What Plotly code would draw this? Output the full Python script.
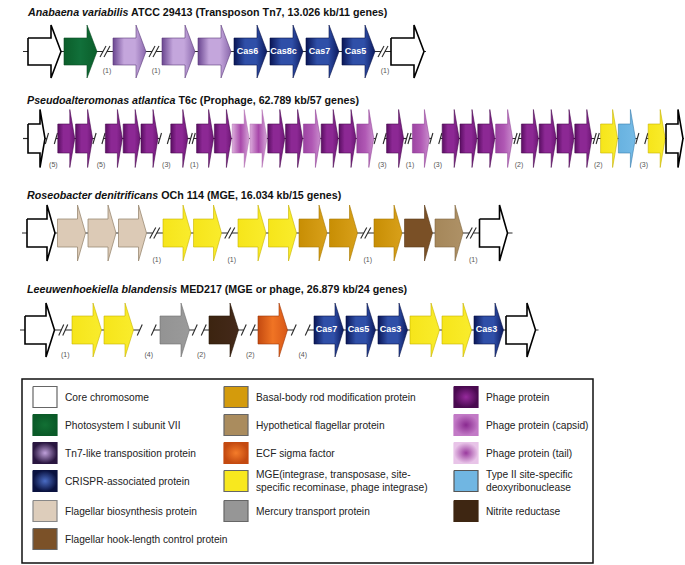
import plotly.graph_objects as go

W, H = 685, 565

# ------------------------------------------------------------------ data
ROW_TITLES = [
    "<b><i>Anabaena variabilis</i> ATCC 29413 (Transposon Tn7, 13.026 kb/11 genes)</b>",
    "<b><i>Pseudoalteromonas atlantica</i> T6c (Prophage, 62.789 kb/57 genes)</b>",
    "<b><i>Roseobacter denitrificans</i> OCh 114 (MGE, 16.034 kb/15 genes)</b>",
    "<b><i>Leeuwenhoekiella blandensis</i> MED217 (MGE or phage, 26.879 kb/24 genes)</b>",
]

# gene codes and break tokens ("//" = tight break, "/ /" and "/  /" = open breaks)
ROW1_TRACK = ["core", "psi", "//", "tn7", "//", "tn7", "tn7", "cas", "cas", "cas", "cas", "//", "core"]
ROW1_GENE_TEXT = ["", "", "", "", "", "Cas6", "Cas8c", "Cas7", "Cas5", ""]
ROW1_GAP_TEXT = ["(1)", "(1)", "(1)"]

ROW2_TRACK = ["core", "/ /", "P", "P", "/ /", "P", "P", "P", "/ /", "P", "//",
              "P", "P", "T", "T", "P", "P", "C", "P", "P", "C", "/ /", "P", "//", "C", "/ /",
              "P", "P", "P", "C", "//", "P", "P", "P", "P", "//", "mge", "t2", "/ /", "mge", "core"]
ROW2_GENE_TEXT = [""] * 31
ROW2_GAP_TEXT = ["(5)", "(5)", "(3)", "(1)", "(3)", "(1)", "(3)", "(2)", "(2)", "(3)"]

ROW3_TRACK = ["core", "flag", "flag", "flag", "//", "mge", "mge", "//", "mge", "mge",
              "basal", "basal", "//", "basal", "hook", "hypo", "//", "core"]
ROW3_GENE_TEXT = [""] * 14
ROW3_GAP_TEXT = ["(1)", "(1)", "(1)", "(1)"]

ROW4_TRACK = ["core", "//", "mge", "mge", "/  /", "hg", "/ /", "nir", "/ /", "ecf", "/  /",
              "cas", "cas", "cas", "mge", "mge", "cas", "core"]
ROW4_GENE_TEXT = ["", "", "", "", "", "", "Cas7", "Cas5", "Cas3", "", "", "Cas3", ""]
ROW4_GAP_TEXT = ["(1)", "(4)", "(2)", "(2)", "(4)"]

LEGEND_COL1 = ["core", "psi", "tn7", "cas", "flag", "hook"]
LEGEND_COL1_TEXT = ["Core chromosome", "Photosystem I subunit VII", "Tn7-like transposition protein",
                    "CRISPR-associated protein", "Flagellar biosynthesis protein",
                    "Flagellar hook-length control protein"]
LEGEND_COL2 = ["basal", "hypo", "ecf", "mge", "hg"]
LEGEND_COL2_TEXT = ["Basal-body rod modification protein", "Hypothetical flagellar protein",
                    "ECF sigma factor",
                    "MGE(integrase, transposase, site-<br>specific recominase, phage integrase)",
                    "Mercury transport protein"]
LEGEND_COL3 = ["P", "C", "T", "t2", "nir"]
LEGEND_COL3_TEXT = ["Phage protein", "Phage protein (capsid)", "Phage protein (tail)",
                    "Type II site-specific<br>deoxyribonuclease", "Nitrite reductase"]

# ------------------------------------------------------------------ styles
STYLE = {
    "core":  dict(h=["#ffffff", "#ffffff"], r=["#ffffff", "#ffffff"], line="#000000", lw=1.6, lline="#666666"),
    "psi":   dict(h=["#0b5e2a", "#11703a", "#0b5e2a"], r=["#127034", "#0a5a28"], line="#0a4a22", lw=0.6),
    "tn7":   dict(h=["#6a4690", "#c4a6dc", "#c4a6dc", "#8a68ac"], r=["#bfa0da", "#2a1640"], line="#5a3a7a", lw=0.6),
    "cas":   dict(h=["#0a1656", "#2f4fa8", "#2f4fa8", "#0c1a5e"], r=["#4a6cc4", "#0a1240"], line="#081248", lw=0.6),
    "flag":  dict(h=["#dccab6", "#dccab6"], r=["#ddcdbb", "#ddcdbb"], line="#9a8a74", lw=0.8, lline="#888888"),
    "hook":  dict(h=["#7a5026", "#7a5026"], r=["#7b5128", "#7b5128"], line="#5a3a1a", lw=0.6, lline="#666666"),
    "basal": dict(h=["#c88e04", "#d8a01a"], r=["#d49b0c", "#d49b0c"], line="#a87800", lw=0.6, lline="#666666"),
    "hypo":  dict(h=["#a5875a", "#ae9166"], r=["#aa8c5e", "#aa8c5e"], line="#806640", lw=0.6, lline="#666666"),
    "ecf":   dict(h=["#c44a10", "#f07424", "#d85818"], r=["#f47c2a", "#c44a10"], line="#a03808", lw=0.6),
    "mge":   dict(h=["#f6e51a", "#f9ec2c"], r=["#f8e81e", "#f8e81e"], line="#c8b400", lw=0.6, lline="#666666"),
    "hg":    dict(h=["#939393", "#9a9a9a"], r=["#969696", "#969696"], line="#707070", lw=0.6, lline="#666666"),
    "t2":    dict(h=["#68b2e0", "#74bae6"], r=["#70b6e2", "#70b6e2"], line="#3a80b0", lw=0.6, lline="#555555"),
    "nir":   dict(h=["#3c2410", "#44291a"], r=["#3e2612", "#3e2612"], line="#2a1808", lw=0.6),
    "P":     dict(h=["#5a0e62", "#8c2894", "#8c2894", "#6c1674"], r=["#962a9c", "#4a0a50"], line="#4a0a50", lw=0.6),
    "C":     dict(h=["#9c44a2", "#b058b4", "#c88ccc"], r=["#8a2a90", "#c27ac6"], line="#8a3a90", lw=0.5),
    "T":     dict(h=["#dcaedc", "#a848aa", "#d6a6d8"], r=["#9a3a9e", "#e8c4e8"], line="#b070b0", lw=0.5),
}

# ------------------------------------------------------------------ row geometry
GEOM = [
    dict(yc=51.5, x0=28, pitch=36, body=23, head=10, bh=13.5, hh=26.5, ty=12, ldy=19.5,
         brk={"//": 13}, dsep=4.0, sw=3.0, sh=5.5, lpad=(5, 2)),
    dict(yc=138.5, x0=28, pitch=17.8, body=12, head=5, bh=14.5, hh=29, ty=100, ldy=27,
         brk={"//": 8, "/ /": 12}, dsep=3.0, sw=1.6, sh=5.5, lpad=(5, 2)),
    dict(yc=233, x0=27, pitch=30.5, body=20, head=8, bh=14, hh=28, ty=195, ldy=27,
         brk={"//": 14}, dsep=4.0, sw=3.0, sh=5.5, lpad=(5, 5)),
    dict(yc=330, x0=25, pitch=32, body=21, head=8.5, bh=14, hh=27, ty=289, ldy=25,
         brk={"//": 15, "/ /": 17, "/  /": 24}, dsep=4.0, sw=2.5, sh=5.5, lpad=(5, 3)),
]
OPEN_HALF = {"/ /": 4.5, "/  /": 7.0}

TRACKS = [ROW1_TRACK, ROW2_TRACK, ROW3_TRACK, ROW4_TRACK]
GENE_TEXTS = [ROW1_GENE_TEXT, ROW2_GENE_TEXT, ROW3_GENE_TEXT, ROW4_GENE_TEXT]
GAP_TEXTS = [ROW1_GAP_TEXT, ROW2_GAP_TEXT, ROW3_GAP_TEXT, ROW4_GAP_TEXT]

FONT = "Liberation Sans, Arial, Helvetica, sans-serif"

fig = go.Figure()
annotations = []


def gene_shape(x, g):
    yc, b, hd, bh, hh = g["yc"], g["body"], g["head"], g["bh"], g["hh"]
    xs = [x, x + b, x + b, x + b + hd, x + b, x + b, x, x]
    ys = [yc - bh, yc - bh, yc - hh, yc, yc + hh, yc + bh, yc + bh, yc - bh]
    return xs, ys


def scale_of(cols):
    n = len(cols)
    return [[i / (n - 1), c] for i, c in enumerate(cols)]


for r, (track, gtxt, gaps, g) in enumerate(zip(TRACKS, GENE_TEXTS, GAP_TEXTS, GEOM)):
    yc = g["yc"]
    gene_x, gene_kind = [], []
    breaks = []
    x = g["x0"]
    prev_end = None
    for tok in track:
        if tok in g["brk"]:
            breaks.append([tok, prev_end, None])
            x = x + g["brk"][tok]
        else:
            if breaks and breaks[-1][2] is None:
                breaks[-1][2] = x
            gene_x.append(x)
            gene_kind.append(tok)
            prev_end = x + g["body"] + g["head"]
            x = x + g["pitch"]
    line_start = gene_x[0] - g["lpad"][0]
    line_end = min(prev_end + g["lpad"][1], W - 1)

    cuts, slash_x = [], []
    for kind, a, b in breaks:
        mid = (a + b) / 2
        half = g["dsep"] / 2 if kind == "//" else OPEN_HALF[kind]
        cuts.append((mid - half, mid + half))
        slash_x += [mid - half, mid + half]
    lx, ly = [], []
    cur = line_start
    for c0, c1 in cuts:
        lx += [cur, c0, None]
        ly += [yc, yc, None]
        cur = c1
    lx += [cur, line_end]
    ly += [yc, yc]
    fig.add_trace(go.Scatter(x=lx, y=ly, mode="lines", line=dict(color="#2a2a2a", width=1.2),
                             hoverinfo="skip"))
    sx, sy = [], []
    for s in slash_x:
        sx += [s - g["sw"], s + g["sw"], None]
        sy += [yc + g["sh"], yc - g["sh"], None]
    fig.add_trace(go.Scatter(x=sx, y=sy, mode="lines", line=dict(color="#2a2a2a", width=1.1),
                             hoverinfo="skip"))

    for gx, kind in zip(gene_x, gene_kind):
        st = STYLE[kind]
        xs, ys = gene_shape(gx, g)
        fig.add_trace(go.Scatter(
            x=xs, y=ys, mode="lines", fill="toself",
            fillgradient=dict(type="horizontal", colorscale=scale_of(st["h"])),
            line=dict(color=st["line"], width=st["lw"]), hoverinfo="skip"))

    tx, ty, tt = [], [], []
    for gx, t in zip(gene_x, gtxt):
        if t:
            tx.append(gx + g["body"] / 2 + 2)
            ty.append(yc)
            tt.append("<b>" + t + "</b>")
    if tt:
        fig.add_trace(go.Scatter(x=tx, y=ty, text=tt, mode="text",
                                 textfont=dict(family=FONT, size=9, color="white"),
                                 hoverinfo="skip"))

    bx = [(a + b) / 2 + 2 for _, a, b in breaks]
    by = [yc + g["ldy"]] * len(bx)
    fig.add_trace(go.Scatter(x=bx, y=by, text=gaps, mode="text",
                             textfont=dict(family=FONT, size=7, color="#555555"),
                             hoverinfo="skip"))

    annotations.append(dict(x=25, y=g["ty"], xref="x", yref="y", text=ROW_TITLES[r],
                            showarrow=False, xanchor="left", yanchor="middle",
                            font=dict(family=FONT, size=10.7, color="#111111")))

# ------------------------------------------------------------------ legend box
LEG_BOX = dict(x0=22, x1=593, y0=379, y1=563)
LEG_COL_X = [33, 224, 454]
LEG_ROW_Y = [397, 425, 453, 481, 511, 539]
SW_W, SW_H = 24, 21

fig.add_shape(type="rect", xref="x", yref="y", line=dict(color="#111111", width=1.5),
              fillcolor="rgba(0,0,0,0)", **LEG_BOX)

for cx, kinds, texts in zip(LEG_COL_X, [LEGEND_COL1, LEGEND_COL2, LEGEND_COL3],
                            [LEGEND_COL1_TEXT, LEGEND_COL2_TEXT, LEGEND_COL3_TEXT]):
    for i, (kind, label) in enumerate(zip(kinds, texts)):
        st = STYLE[kind]
        y = LEG_ROW_Y[i]
        xs = [cx, cx + SW_W, cx + SW_W, cx, cx]
        ys = [y - SW_H / 2, y - SW_H / 2, y + SW_H / 2, y + SW_H / 2, y - SW_H / 2]
        fig.add_trace(go.Scatter(
            x=xs, y=ys, mode="lines", fill="toself",
            fillgradient=dict(type="radial", colorscale=scale_of(st["r"])),
            line=dict(color=st.get("lline", st["r"][-1]), width=1.2), hoverinfo="skip"))
        annotations.append(dict(x=cx + SW_W + 6, y=y, xref="x", yref="y", text=label,
                                showarrow=False, xanchor="left", yanchor="middle", align="left",
                                font=dict(family=FONT, size=10.2, color="#222222")))

fig.update_layout(
    width=W, height=H, margin=dict(l=0, r=0, t=0, b=0),
    paper_bgcolor="white", plot_bgcolor="white", showlegend=False,
    xaxis=dict(range=[0, W], visible=False, fixedrange=True),
    yaxis=dict(range=[H, 0], visible=False, fixedrange=True),
    annotations=annotations,
)

fig.write_html("out.html", config={"displayModeBar": False},
               post_script="document.body.style.margin='0px';")
